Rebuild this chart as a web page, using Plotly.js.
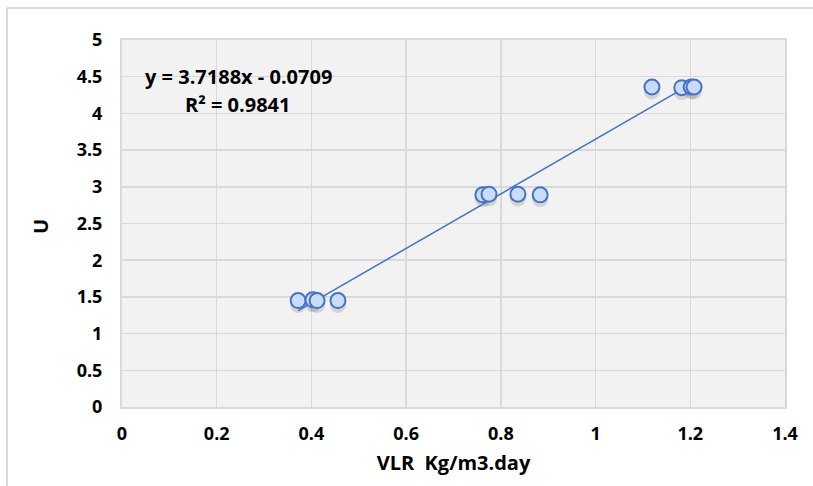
<!DOCTYPE html>
<html>
<head>
<meta charset="utf-8">
<script src="https://cdn.plot.ly/plotly-3.0.1.min.js"></script>
<style>
html,body{margin:0;padding:0;background:#fff;}
#chart{width:813px;height:486px;}
</style>
</head>
<body>
<div id="chart"></div>
<script>
const vlr = [0.372, 0.403, 0.412, 0.456, 0.762, 0.775, 0.836, 0.883, 1.119, 1.182, 1.202, 1.208];
const u   = [1.45, 1.46, 1.45, 1.45, 2.89, 2.90, 2.90, 2.89, 4.36, 4.35, 4.36, 4.36];
const slope = [3.7188];
const intercept = [-0.0709];
const xTicks = [0, 0.2, 0.4, 0.6, 0.8, 1, 1.2, 1.4];
const yTicks = [0, 0.5, 1, 1.5, 2, 2.5, 3, 3.5, 4, 4.5, 5];
const eqText = ["y = 3.7188x - 0.0709", "R² = 0.9841"];

const xmin = Math.min(...vlr), xmax = Math.max(...vlr);
const lineX = [xmin, xmax];
const lineY = lineX.map(x => slope[0]*x + intercept[0]);

const font = "Open Sans, Noto Sans, sans-serif";
const tickFont = {family: font, size: 18, color: '#000', weight: 700};
const bigFont = {family: font, size: 20, color: '#000', weight: 700};

const traces = [
  {x: vlr, y: u.map(v => v - 0.06), type: 'scatter', mode: 'markers', hoverinfo: 'skip',
   marker: {size: 16, color: 'rgba(0,0,0,0.12)', line: {width: 0}}},
  {x: lineX, y: lineY, type: 'scatter', mode: 'lines',
   line: {color: '#4472c4', width: 1.5}},
  {x: vlr, y: u, type: 'scatter', mode: 'markers',
   marker: {size: 15, color: '#c9dcfa', line: {color: '#4472c4', width: 2}}}
];

const layout = {
  width: 813, height: 486,
  margin: {l: 122, r: 28, t: 40, b: 79},
  paper_bgcolor: '#ffffff',
  plot_bgcolor: '#f2f2f2',
  showlegend: false,
  xaxis: {
    range: [0, 1.4], tickvals: xTicks, ticktext: xTicks.map(String),
    showgrid: true, gridcolor: '#d9d9d9', gridwidth: 1.5,
    zeroline: false, showline: true, linecolor: '#d9d9d9', linewidth: 2, mirror: true,
    ticks: '', ticklabelstandoff: 9, tickfont: tickFont,
    title: {text: 'VLR  Kg/m3.day', font: bigFont, standoff: 12}
  },
  yaxis: {
    range: [0, 5], tickvals: yTicks, ticktext: yTicks.map(String),
    showgrid: true, gridcolor: '#d9d9d9', gridwidth: 1.5,
    zeroline: false, showline: true, linecolor: '#d9d9d9', linewidth: 2, mirror: true,
    ticks: '', ticklabelstandoff: 14, tickfont: tickFont
  },
  annotations: [
    {text: eqText[0], xref: 'paper', yref: 'paper', x: (238 - 122) / 663, y: (407 - 76) / 367,
     showarrow: false, font: bigFont, xanchor: 'center', yanchor: 'middle'},
    {text: eqText[1], xref: 'paper', yref: 'paper', x: (238 - 122) / 663, y: (407 - 105) / 367,
     showarrow: false, font: bigFont, xanchor: 'center', yanchor: 'middle'},
    {text: 'U', xref: 'paper', yref: 'paper', x: (40 - 122) / 663, y: (407 - 227) / 367,
     showarrow: false, textangle: -90, font: bigFont, xanchor: 'center', yanchor: 'middle'}
  ],
  shapes: [
    {type: 'line', xref: 'paper', yref: 'paper', x0: (7 - 122) / 663, x1: (813 - 122) / 663,
     y0: (407 - 8) / 367, y1: (407 - 8) / 367, line: {color: '#d9d9d9', width: 2}},
    {type: 'line', xref: 'paper', yref: 'paper', x0: (7 - 122) / 663, x1: (7 - 122) / 663,
     y0: (407 - 8) / 367, y1: (407 - 486) / 367, line: {color: '#d9d9d9', width: 2}}
  ]
};

Plotly.newPlot('chart', traces, layout, {displayModeBar: false, staticPlot: true});
</script>
</body>
</html>
